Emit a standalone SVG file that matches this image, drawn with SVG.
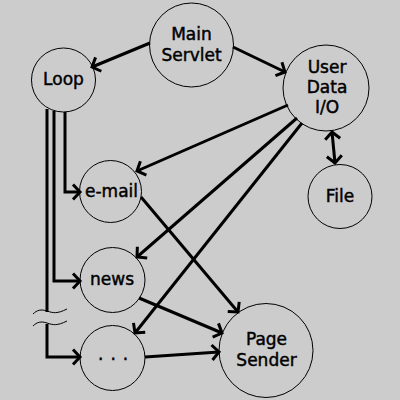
<svg xmlns="http://www.w3.org/2000/svg" width="400" height="400" viewBox="0 0 400 400">
  <defs>
    <marker id="arr" markerUnits="userSpaceOnUse" markerWidth="24" markerHeight="24" refX="12" refY="12" orient="auto" viewBox="0 0 24 24">
      <path d="M5,4.5 L12,12 L5,19.5" fill="none" stroke="#000" stroke-width="3"/>
    </marker>
    <marker id="arrs" markerUnits="userSpaceOnUse" markerWidth="24" markerHeight="24" refX="12" refY="12" orient="auto-start-reverse" viewBox="0 0 24 24">
      <path d="M5,4.5 L12,12 L5,19.5" fill="none" stroke="#000" stroke-width="3"/>
    </marker>
  </defs>
  <style>
    .node circle { fill: none; stroke: #000; stroke-width: 1; }
    .node text { font-family: "DejaVu Sans", "Liberation Sans", sans-serif; font-size: 17px; fill: #000; stroke: #000; stroke-width: 0.45; text-anchor: middle; }
    .edge { fill: none; stroke: #000; stroke-width: 3; marker-end: url(#arr); }
    .wave { fill: none; stroke: #000; stroke-width: 1; }
  </style>
  <rect x="0" y="0" width="400" height="400" fill="#cccccc"/>

  <g id="connectors">
    <path class="edge" d="M150,43 L92,67"/>
    <path class="edge" d="M233,47 L285,72"/>
    <path class="edge" d="M288,105 L137,171"/>
    <path class="edge" d="M297,118 L137,257"/>
    <path class="edge" d="M302,123 L135,333"/>
    <path class="edge" d="M332,132 L335,163" style="marker-start:url(#arrs)"/>
    <path class="edge" d="M141,197 L238,312"/>
    <path class="edge" d="M139,298 L222,333"/>
    <path class="edge" d="M145,357 L219,352"/>
    <path class="edge" d="M65,112 L65,192 L80,192"/>
    <path class="edge" d="M54,111 L54,281 L80,281"/>
    <path class="edge" d="M47,109 L47,312" style="marker-end:none"/>
    <path class="edge" d="M47,324 L47,357 L80,357"/>
    <path class="wave" d="M33,314 C37,310 41,309 47,311 S57,314 67,309"/>
    <path class="wave" d="M33,326 C37,322 41,321 47,323 S57,326 67,321"/>
  </g>

  <g id="main-servlet" class="node">
    <circle cx="191.5" cy="45" r="42"/>
    <text x="191.5" y="40">Main</text>
    <text x="191.5" y="61">Servlet</text>
  </g>
  <g id="loop" class="node">
    <circle cx="63.5" cy="80" r="32"/>
    <text x="63.5" y="85">Loop</text>
  </g>
  <g id="user-data-io" class="node">
    <circle cx="326" cy="88" r="43"/>
    <text x="327" y="73">User</text>
    <text x="327" y="93">Data</text>
    <text x="327" y="113">I/O</text>
  </g>
  <g id="file" class="node">
    <circle cx="340" cy="196.5" r="32"/>
    <text x="340" y="202">File</text>
  </g>
  <g id="email" class="node">
    <circle cx="110.5" cy="191.5" r="31"/>
    <text x="111.5" y="197">e-mail</text>
  </g>
  <g id="news" class="node">
    <circle cx="112.5" cy="280" r="32.5"/>
    <text x="112" y="285">news</text>
  </g>
  <g id="more" class="node">
    <circle cx="112.5" cy="358" r="32.5"/>
    <text x="113.5" y="360" style="letter-spacing:0.75px">. . .</text>
  </g>
  <g id="page-sender" class="node">
    <circle cx="266" cy="350.5" r="47"/>
    <text x="266.5" y="345">Page</text>
    <text x="266.5" y="366">Sender</text>
  </g>
</svg>
